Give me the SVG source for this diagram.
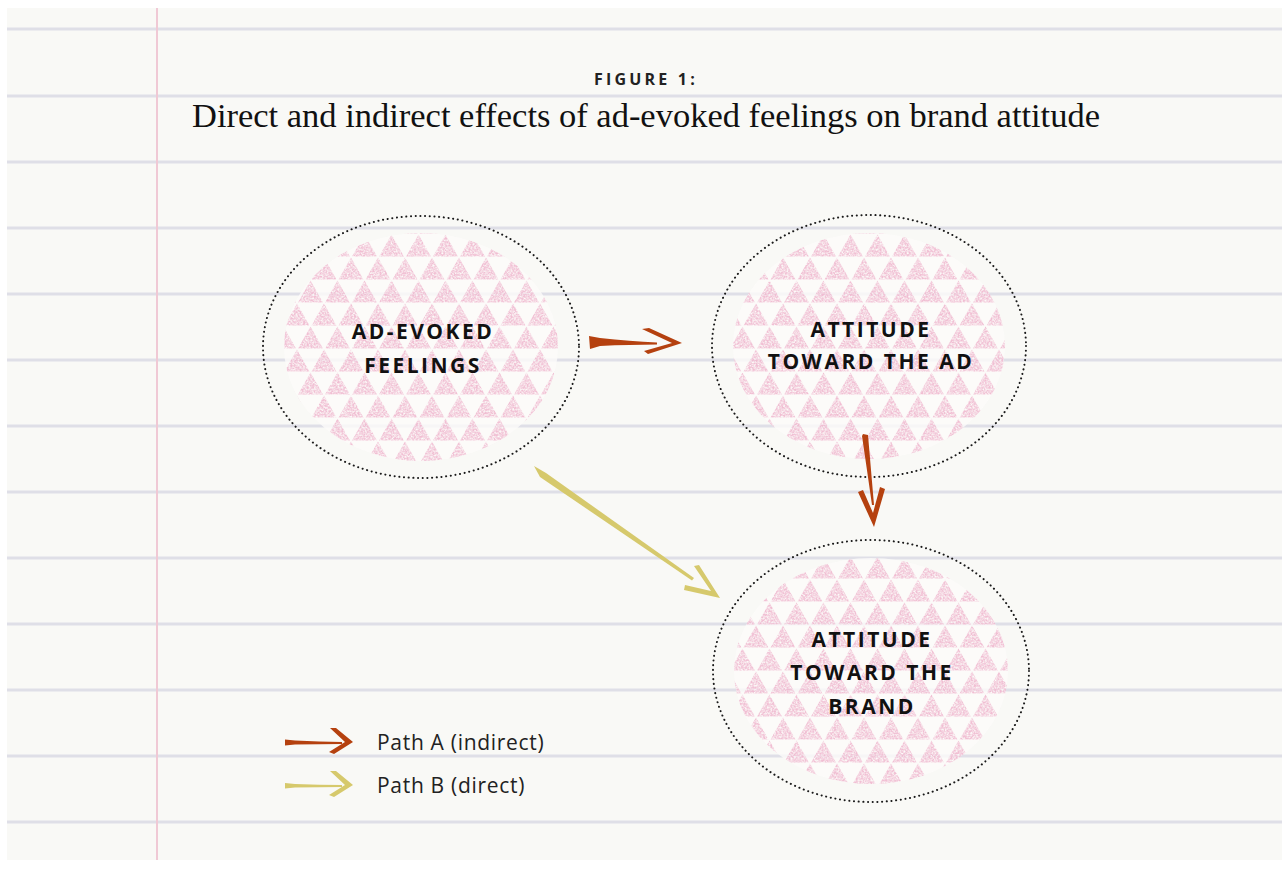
<svg xmlns="http://www.w3.org/2000/svg" width="1282" height="875" viewBox="0 0 1282 875">
<defs>
<style>
.rule{stroke:#dfdfe7;stroke-width:3;fill:none}
.dots{fill:none;stroke:#1a1a1a;stroke-width:2;stroke-dasharray:0.1 4.6;stroke-linecap:round}
.veil{fill:#fcfbfa;opacity:0.8}
.tri{fill:url(#triPat)}
.lbl{font-family:"Open Sans","Liberation Sans",sans-serif;font-weight:700;font-size:21px;letter-spacing:2.5px;fill:#111;text-anchor:middle}
.leg{font-family:"Open Sans","Liberation Sans",sans-serif;font-size:21px;letter-spacing:0.7px;fill:#222}
.red{fill:#b5410f}
.yel{fill:#d6c96c}
</style>
<pattern id="triPat" patternUnits="userSpaceOnUse" width="27" height="46" x="0" y="4">
<g fill="#e894b8" opacity="0.58">
<polygon points="1,22.5 13.5,0.5 26,22.5"/>
<polygon points="-12.5,45.5 0,23.5 12.5,45.5"/>
<polygon points="14.5,45.5 27,23.5 39.5,45.5"/>
</g>
</pattern>
<filter id="speckle" x="0" y="0" width="1" height="1">
<feTurbulence type="fractalNoise" baseFrequency="0.55" numOctaves="2" seed="7" result="n"/>
<feColorMatrix in="n" type="matrix" values="0 0 0 0 0  0 0 0 0 0  0 0 0 0 0  1.9 0 0 0 -0.35" result="a"/>
<feComposite in="SourceGraphic" in2="a" operator="in"/>
</filter>
<clipPath id="c1"><ellipse cx="421" cy="347" rx="137" ry="114"/></clipPath>
<clipPath id="c2"><ellipse cx="869" cy="346" rx="136" ry="113"/></clipPath>
<clipPath id="c3"><ellipse cx="871" cy="671" rx="137" ry="113"/></clipPath>
</defs>

<g id="background">
<rect x="0" y="0" width="1282" height="875" fill="#ffffff"/>
<rect x="7" y="8" width="1275" height="852" fill="#f9f9f6"/>
<g>
<line class="rule" x1="7" y1="29" x2="1282" y2="29"/>
<line class="rule" x1="7" y1="96" x2="1282" y2="96"/>
<line class="rule" x1="7" y1="162" x2="1282" y2="162"/>
<line class="rule" x1="7" y1="228" x2="1282" y2="228"/>
<line class="rule" x1="7" y1="294" x2="1282" y2="294"/>
<line class="rule" x1="7" y1="360" x2="1282" y2="360"/>
<line class="rule" x1="7" y1="426" x2="1282" y2="426"/>
<line class="rule" x1="7" y1="492" x2="1282" y2="492"/>
<line class="rule" x1="7" y1="558" x2="1282" y2="558"/>
<line class="rule" x1="7" y1="624" x2="1282" y2="624"/>
<line class="rule" x1="7" y1="690" x2="1282" y2="690"/>
<line class="rule" x1="7" y1="756" x2="1282" y2="756"/>
<line class="rule" x1="7" y1="822" x2="1282" y2="822"/>
</g>
<line x1="157" y1="8" x2="157" y2="860" stroke="#f0c9d5" stroke-width="2"/>
</g>

<g id="title">
<text x="646" y="85" text-anchor="middle" font-family="'Open Sans','Liberation Sans',sans-serif" font-weight="700" font-size="16" letter-spacing="3.2" fill="#222">FIGURE 1:</text>
<text x="192" y="127" font-family="'Liberation Serif','DejaVu Serif',serif" font-size="33" fill="#111" textLength="908" lengthAdjust="spacingAndGlyphs">Direct and indirect effects of ad-evoked feelings on brand attitude</text>
</g>

<g id="node-feelings">
<ellipse class="veil" cx="421" cy="347" rx="137" ry="114"/>
<g clip-path="url(#c1)"><rect class="tri" x="280" y="230" width="285" height="235" filter="url(#speckle)"/></g>
<ellipse class="dots" cx="421" cy="347" rx="158" ry="131"/>
<text class="lbl" x="423" y="339">AD-EVOKED</text>
<text class="lbl" x="423" y="373">FEELINGS</text>
</g>

<g id="node-ad">
<ellipse class="veil" cx="869" cy="346" rx="136" ry="113"/>
<g clip-path="url(#c2)"><rect class="tri" x="730" y="230" width="280" height="235" filter="url(#speckle)"/></g>
<ellipse class="dots" cx="869" cy="346" rx="157" ry="131"/>
<text class="lbl" x="871" y="337">ATTITUDE</text>
<text class="lbl" x="871" y="369">TOWARD THE AD</text>
</g>

<g id="node-brand">
<ellipse class="veil" cx="871" cy="671" rx="137" ry="113"/>
<g clip-path="url(#c3)"><rect class="tri" x="730" y="555" width="285" height="235" filter="url(#speckle)"/></g>
<ellipse class="dots" cx="871" cy="671" rx="158" ry="131"/>
<text class="lbl" x="872" y="647">ATTITUDE</text>
<text class="lbl" x="872" y="680">TOWARD THE</text>
<text class="lbl" x="872" y="714">BRAND</text>
</g>

<g id="connectors">
<g id="arrow-feelings-ad" class="red">
<path d="M589,336 L600,338 Q630,341 657,342.5 L657,344.5 Q630,344.5 600,346 L590,349 Z"/>
<path d="M642,329 L649,328 L682,343 L648,354 L644,351 L672,343 Z"/>
</g>
<g id="arrow-ad-brand" class="red">
<path d="M863,434 L868,435 Q871,470 874,505 L872,505 Q867,470 862,436 Z"/>
<path d="M858,492 L863,490 L873,513 L880,487 L885,489 L874,527 Z"/>
</g>
<g id="arrow-feelings-brand" class="yel">
<path d="M534,466 L546,473 L694,578 L692,580.5 L540,477 Z"/>
<path d="M694,566 L699,565 L720,598 L684,590 L685,585 L711,591 Z"/>
</g>
</g>

<g id="legend">
<g class="red">
<path d="M285,739.5 L295,740.5 Q320,741.5 342,742 L342,744 Q320,744 295,744.5 L285,745.5 Z"/>
<path d="M330,728 L336,728 L353,742 L334,754 L329,752 L345,742 Z"/>
</g>
<text class="leg" x="377" y="750">Path A (indirect)</text>
<g class="yel">
<path d="M285,783 L295,784 Q320,785 342,785 L342,787 Q320,787 295,787.5 L285,788.5 Z"/>
<path d="M330,771 L336,771 L353,785 L334,797 L329,795 L345,785 Z"/>
</g>
<text class="leg" x="377" y="793">Path B (direct)</text>
</g>
</svg>
